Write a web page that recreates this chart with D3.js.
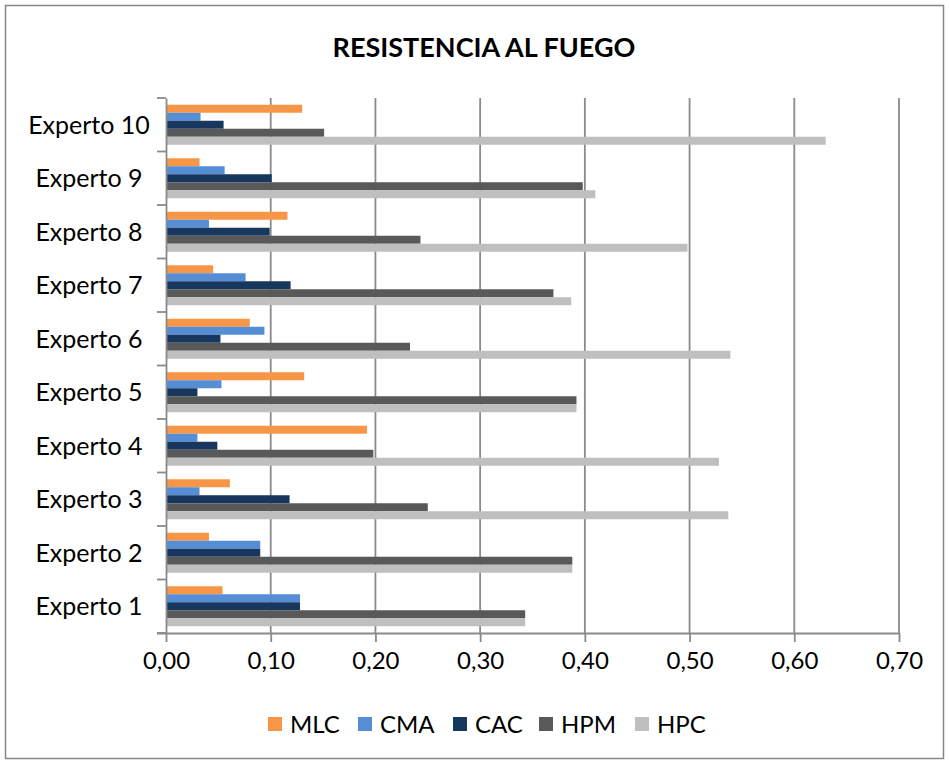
<!DOCTYPE html>
<html>
<head>
<meta charset="utf-8">
<script src="https://cdn.jsdelivr.net/npm/d3@7"></script>
<style>
  html, body { margin: 0; padding: 0; background: #fff; }
  svg { display: block; }
  text { font-family: Lato, "Open Sans", sans-serif; fill: #000; }
</style>
</head>
<body>
<svg id="chart" width="949" height="763"></svg>
<script>
const categories = ["Experto 1","Experto 2","Experto 3","Experto 4","Experto 5","Experto 6","Experto 7","Experto 8","Experto 9","Experto 10"];
const seriesNames = ["MLC","CMA","CAC","HPM","HPC"];
const MLC = [0.054, 0.041, 0.061, 0.192, 0.132, 0.080, 0.045, 0.116, 0.032, 0.130];
const CMA = [0.128, 0.090, 0.032, 0.030, 0.053, 0.094, 0.076, 0.041, 0.056, 0.033];
const CAC = [0.128, 0.090, 0.118, 0.049, 0.030, 0.052, 0.119, 0.099, 0.101, 0.055];
const HPM = [0.343, 0.388, 0.250, 0.198, 0.392, 0.233, 0.370, 0.243, 0.398, 0.151];
const HPC = [0.343, 0.388, 0.537, 0.528, 0.392, 0.539, 0.387, 0.498, 0.410, 0.630];
const xTicks = [0, 0.1, 0.2, 0.3, 0.4, 0.5, 0.6, 0.7];
const colors = ["#F79646", "#558ED5", "#17375E", "#595959", "#BFBFBF"];
const seriesValues = [MLC, CMA, CAC, HPM, HPC];

const svg = d3.select("#chart");

// outer border
svg.append("rect").attr("x", 5.5).attr("y", 5.5).attr("width", 938).attr("height", 753)
  .attr("fill", "#fff").attr("stroke", "#868686").attr("stroke-width", 1.5);

// title
svg.append("text").attr("x", 484).attr("y", 57).attr("text-anchor", "middle")
  .style("font-weight", "bold").style("font-size", "27px").text("RESISTENCIA AL FUEGO");

const x = d3.scaleLinear().domain([0, 0.7]).range([166, 899]);
const y = d3.scaleBand().domain(categories).range([633, 98]).padding(0);
const inner = d3.scaleBand().domain(seriesNames).range([0, 40]).padding(0);
const groupOffset = (y.bandwidth() - 40) / 2;

// gridlines
svg.append("g").selectAll("line").data(xTicks.slice(1)).join("line")
  .attr("x1", d => x(d)).attr("x2", d => x(d))
  .attr("y1", 98).attr("y2", 633)
  .attr("stroke", "#8a8a8a").attr("stroke-width", 1.8);

// bars
seriesNames.forEach((s, si) => {
  svg.append("g").selectAll("rect").data(categories).join("rect")
    .attr("x", x(0))
    .attr("y", c => y(c) + groupOffset + inner(s))
    .attr("width", (c, i) => x(seriesValues[si][i]) - x(0))
    .attr("height", inner.bandwidth())
    .attr("fill", colors[si]);
});

// y axis
const yAxis = d3.axisLeft(y).tickSize(0).tickFormat("");
const gy = svg.append("g").attr("transform", `translate(${x(0)},0)`).call(yAxis);
gy.select(".domain").attr("stroke", "#8a8a8a").attr("stroke-width", 1.8);
// boundary tick marks on y axis
const bounds = categories.map(c => y(c)).concat([y.range()[0]]);
svg.append("g").selectAll("line").data(bounds).join("line")
  .attr("x1", x(0) - 9).attr("x2", x(0))
  .attr("y1", d => d).attr("y2", d => d)
  .attr("stroke", "#8a8a8a").attr("stroke-width", 1.8);

// category labels (centered)
svg.append("g").selectAll("text").data(categories).join("text")
  .attr("x", 89).attr("y", c => y(c) + y.bandwidth() / 2)
  .attr("dy", "0.36em").attr("text-anchor", "middle")
  .style("font-size", "25px").text(c => c);

// x axis
const xAxis = d3.axisBottom(x).tickValues(xTicks).tickSize(9).tickPadding(10)
  .tickFormat(d => d3.format(".2f")(d).replace(".", ","));
const gx = svg.append("g").attr("transform", `translate(0,633)`).call(xAxis);
gx.select(".domain").attr("d", `M${x(0) - 9},0.5H${x(0.7)}`).attr("stroke", "#8a8a8a").attr("stroke-width", 1.8);
gx.selectAll(".tick line").attr("stroke", "#8a8a8a").attr("stroke-width", 1.8);
gx.selectAll(".tick text").style("font-size", "24px").style("font-family", "Lato, sans-serif").attr("fill", "#000");

// legend
const legendX = [268, 358, 453, 539, 635];
const lg = svg.append("g");
seriesNames.forEach((s, i) => {
  lg.append("rect").attr("x", legendX[i]).attr("y", 717).attr("width", 14).attr("height", 14).attr("fill", colors[i]);
  lg.append("text").attr("x", legendX[i] + 22).attr("y", 724).attr("dy", "0.36em")
    .style("font-size", "24px").text(s);
});
</script>
</body>
</html>
